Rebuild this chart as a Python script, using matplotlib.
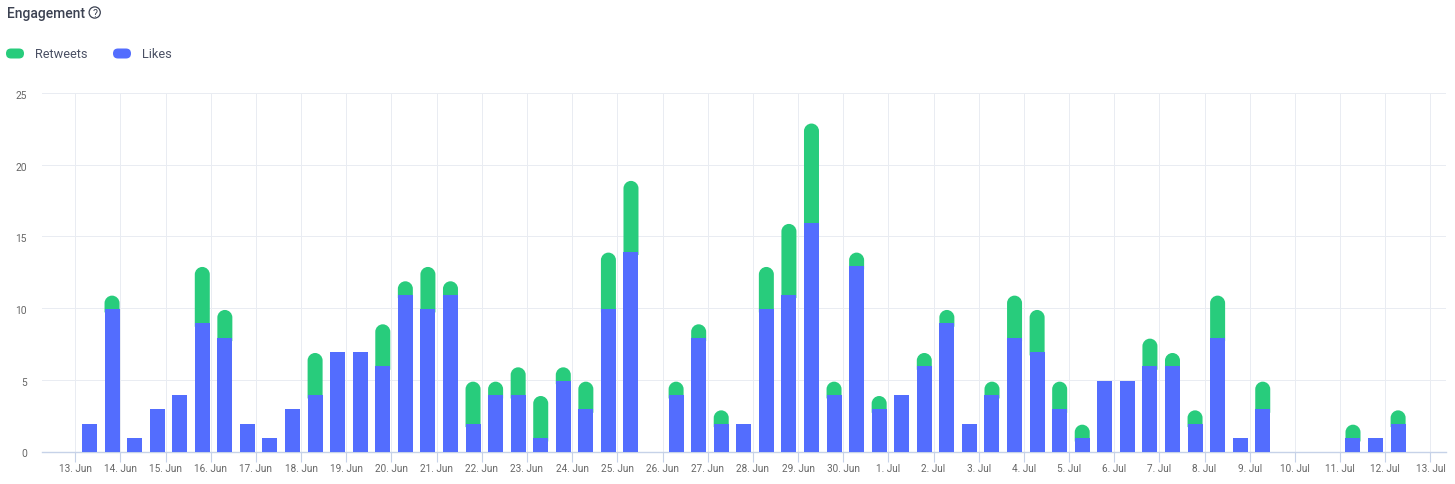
#!/usr/bin/env python3

import numpy as np
import matplotlib
matplotlib.use('Agg')
import matplotlib.pyplot as plt
from matplotlib.patches import Circle, FancyBboxPatch, PathPatch
from matplotlib.path import Path
from matplotlib.transforms import Affine2D, ScaledTranslation

plt.rcParams['font.family'] = ['Roboto', 'DejaVu Sans']

likes = [
    2, 10, 1, 3, 4, 9, 8, 2, 1, 3, 4, 7, 7, 6, 11, 10, 11, 2, 4, 4,
    1, 5, 3, 10, 14, 0, 4, 8, 2, 2, 10, 11, 16, 4, 13, 3, 4, 6, 9, 2,
    4, 8, 7, 3, 1, 5, 5, 6, 6, 2, 8, 1, 3, 0, 0, 0, 1, 1, 2,
]
retweets = [
    0, 1, 0, 0, 0, 4, 2, 0, 0, 0, 3, 0, 0, 3, 1, 3, 1, 3, 1, 2,
    3, 1, 2, 4, 5, 0, 1, 1, 1, 0, 3, 5, 7, 1, 1, 1, 0, 1, 1, 0,
    1, 3, 3, 2, 1, 0, 0, 2, 1, 1, 3, 0, 2, 0, 0, 0, 1, 0, 1,
]
tick_labels = [
    '13. Jun', '14. Jun', '15. Jun', '16. Jun', '17. Jun', '18. Jun',
    '19. Jun', '20. Jun', '21. Jun', '22. Jun', '23. Jun', '24. Jun',
    '25. Jun', '26. Jun', '27. Jun', '28. Jun', '29. Jun', '30. Jun',
    '1. Jul', '2. Jul', '3. Jul', '4. Jul', '5. Jul', '6. Jul', '7. Jul',
    '8. Jul', '9. Jul', '10. Jul', '11. Jul', '12. Jul', '13. Jul',
]

GREEN = '#28cc7c'
BLUE = '#536dfe'
GRID = '#e9ecf2'
AXIS = '#c6d2e8'
W, H = 1455, 485


def top_rounded(x, bottom, top, width, ry):
    # bar whose top corners are a half ellipse, so it looks round on screen
    l, r = x - width / 2, x + width / 2
    k = 0.5523
    verts = [
        (l, bottom), (l, top - ry),
        (l, top - ry + k * ry), (x - k * width / 2, top), (x, top),
        (x + k * width / 2, top), (r, top - ry + k * ry), (r, top - ry),
        (r, bottom), (l, bottom),
    ]
    codes = [Path.MOVETO, Path.LINETO] + [Path.CURVE4] * 6 + [Path.LINETO, Path.CLOSEPOLY]
    return Path(verts, codes)


def pixel_transform():
    return Affine2D().scale(1, -1).translate(0, H)


fig = plt.figure(figsize=(W / 100, H / 100), dpi=100)
ax = fig.add_axes([42 / W, 1 - 452.5 / H, (1446 - 42) / W, (452.5 - 94) / H])

x_ticks = np.arange(len(tick_labels))
ax.set_xlim(-0.737, 30.345)
ax.set_ylim(0, 25)

bar_x = 0.314 + 0.4995 * np.arange(len(likes))
bar_w = 15 / 45.17
# tops sit about a pixel under the gridlines in the original
crisp = 0.06
ax.bar(bar_x, likes, bar_w, bottom=-crisp, color=BLUE, zorder=3)

ry = 7.5 / 14.32
for x, l, r in zip(bar_x, likes, retweets):
    if r:
        top = l + r - 0.13
        # start a bit low, under the blue, so no seam shows
        ax.add_patch(PathPatch(top_rounded(x, l - 0.3, top, bar_w, ry), fc=GREEN, ec='none', zorder=2.5))

ax.set_xticks(x_ticks, tick_labels)
ax.set_yticks([0, 5, 10, 15, 20, 25])
ax.grid(True, color=GRID, linewidth=0.72, zorder=0)
ax.set_axisbelow(True)
for side in ['top', 'right', 'left']:
    ax.spines[side].set_visible(False)
ax.spines['bottom'].set_color(AXIS)
ax.spines['bottom'].set_linewidth(1)
ax.tick_params(axis='x', length=7.2, width=0.8, color=AXIS, labelsize=7.2,
               labelcolor='#666666', pad=0.8)
ax.tick_params(axis='y', length=0, labelsize=7.4, labelcolor='#666666', pad=10.8)
shift = ScaledTranslation(0, -1 / 100, fig.dpi_scale_trans)
for t in ax.get_yticklabels():
    t.set_transform(t.get_transform() + shift)

# header and legend sit outside the plot area, placed in pixels
tr = pixel_transform()
fig.text(6.5, 14, 'Engagement', transform=tr, fontsize=10, fontweight='medium',
         color='#3c4252', va='center', ha='left')
fig.add_artist(Circle((94.7, 13.5), 5.6, transform=tr, fc='none', ec='#3c4252', lw=0.9))
fig.text(94.7, 13.7, '?', transform=tr, fontsize=7.6, color='#3c4252', va='center', ha='center')

for x0, color, label, x1 in [(6, GREEN, 'Retweets', 35), (113, BLUE, 'Likes', 142)]:
    fig.add_artist(FancyBboxPatch((x0 + 5, 54.5), 8, 0, boxstyle='round,pad=5,rounding_size=5',
                                  transform=tr, fc=color, ec='none'))
    fig.text(x1, 55, label, transform=tr, fontsize=9.2, color='#4a5064', va='center', ha='left')

fig.savefig('out.png', dpi=100, facecolor='white')
